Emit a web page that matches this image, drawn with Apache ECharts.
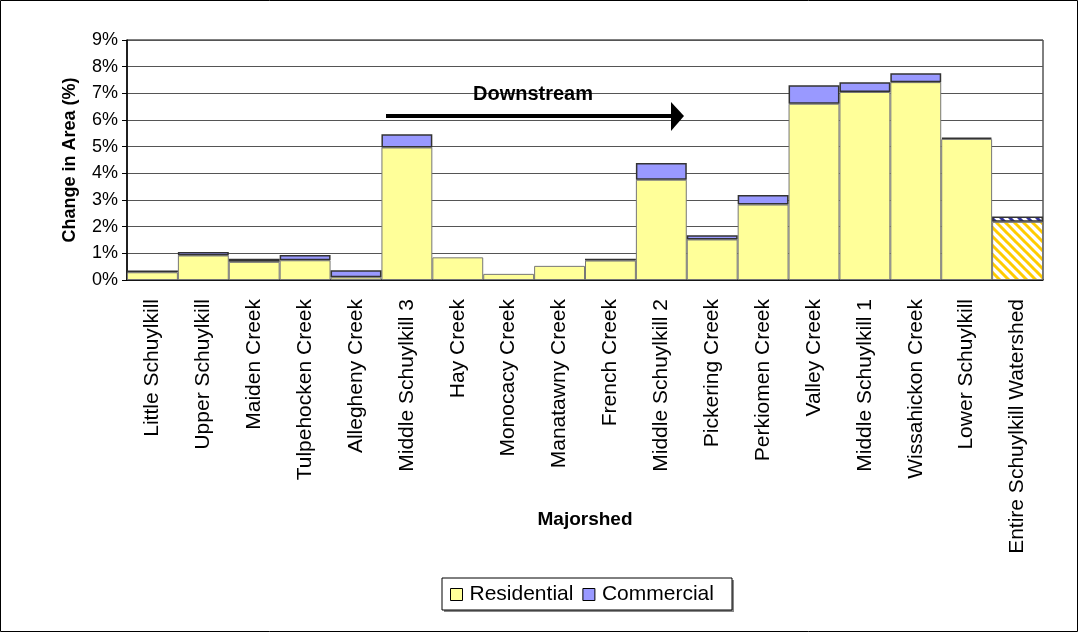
<!DOCTYPE html>
<html>
<head>
<meta charset="utf-8">
<script src="https://cdn.jsdelivr.net/npm/echarts@6/dist/echarts.min.js"></script>
<style>
  html, body { margin: 0; padding: 0; background: #fff; }
  #chart { width: 1078px; height: 632px; }
</style>
</head>
<body>
<div id="chart"></div>
<script>
// majorsheds, upstream to downstream, then the whole watershed
var categories = ['Little Schuylkill', 'Upper Schuylkill', 'Maiden Creek', 'Tulpehocken Creek', 'Allegheny Creek',
  'Middle Schuylkill 3', 'Hay Creek', 'Monocacy Creek', 'Manatawny Creek', 'French Creek', 'Middle Schuylkill 2',
  'Pickering Creek', 'Perkiomen Creek', 'Valley Creek', 'Middle Schuylkill 1', 'Wissahickon Creek',
  'Lower Schuylkill', 'Entire Schuylkill Watershed'];
// change in area, %
var residential = [0.29, 0.92, 0.68, 0.74, 0.10, 4.97, 0.85, 0.23, 0.53, 0.73, 3.76, 1.52, 2.83, 6.61, 7.05, 7.42, 5.29, 2.18];
var commercial = [0.07, 0.13, 0.12, 0.20, 0.27, 0.50, 0, 0, 0, 0.07, 0.63, 0.16, 0.36, 0.69, 0.37, 0.33, 0.05, 0.20];
var yTicks = [0, 1, 2, 3, 4, 5, 6, 7, 8, 9];

var FONT = 'Liberation Sans, Arial, sans-serif';

// diagonal hatch for the watershed total bar
function stripes(color, size, width) {
  var c = document.createElement('canvas');
  c.width = c.height = size;
  var g = c.getContext('2d');
  g.fillStyle = '#fff';
  g.fillRect(0, 0, size, size);
  g.strokeStyle = color;
  g.lineWidth = width;
  g.beginPath();
  for (var k = -1; k <= 1; k++) {
    g.moveTo(k * size - 1, -1);
    g.lineTo(k * size + size + 1, size + 1);
  }
  g.stroke();
  return { image: c, repeat: 'repeat' };
}

var last = categories.length - 1;
var resData = residential.map(function (v, i) {
  return i === last ? { value: v, itemStyle: { color: stripes('#FFCC00', 9, 3) } } : v;
});
var comData = commercial.map(function (v, i) {
  if (v === 0) return '-';
  return i === last ? { value: v, itemStyle: { color: stripes('#333399', 9, 3) } } : v;
});

var chart = echarts.init(document.getElementById('chart'));
chart.setOption({
  animation: false,
  backgroundColor: '#fff',
  textStyle: { fontFamily: FONT },
  grid: { left: 127, right: 35, top: 40, bottom: 352, show: true, borderColor: '#000', borderWidth: 1 },
  legend: {
    left: 450, top: 584, padding: 0, itemGap: 9,
    itemWidth: 12, itemHeight: 12, icon: 'rect',
    itemStyle: { borderColor: '#000', borderWidth: 1 },
    textStyle: { fontSize: 21, color: '#000', fontFamily: FONT, padding: [0, 0, 0, 2] },
    data: ['Residential', 'Commercial']
  },
  xAxis: {
    type: 'category',
    data: categories,
    name: 'Majorshed',
    nameLocation: 'middle',
    nameGap: 230,
    nameMoveOverlap: false,
    nameTextStyle: { fontSize: 19, fontWeight: 'bold', color: '#000', verticalAlign: 'top' },
    axisLine: { lineStyle: { color: '#000', width: 1.5 } },
    axisTick: { length: 7, lineStyle: { color: '#000' } },
    axisLabel: { interval: 0, rotate: 90, margin: 19, fontSize: 21, color: '#000' }
  },
  yAxis: {
    type: 'value',
    min: yTicks[0], max: yTicks[yTicks.length - 1], interval: 1,
    name: 'Change in Area (%)',
    nameLocation: 'middle',
    nameGap: 48,
    nameMoveOverlap: false,
    nameTextStyle: { fontSize: 18, fontWeight: 'bold', color: '#000' },
    axisLine: { show: true, lineStyle: { color: '#000', width: 1.5 } },
    axisTick: { show: true, length: 5, lineStyle: { color: '#000' } },
    axisLabel: { fontSize: 18, color: '#000', margin: 9, formatter: '{value}%' },
    splitLine: { lineStyle: { color: '#555', width: 1 } }
  },
  series: [
    {
      name: 'Residential', type: 'bar', stack: 'area', barCategoryGap: 0,
      itemStyle: { color: '#FFFF99', borderColor: '#777', borderWidth: 1 },
      data: resData
    },
    {
      name: 'Commercial', type: 'bar', stack: 'area', barCategoryGap: 0,
      itemStyle: { color: '#9999FF', borderColor: '#333', borderWidth: 1.5 },
      data: comData
    }
  ],
  graphic: [
    // outer frame
    { type: 'rect', shape: { x: 0.5, y: 0.5, width: 1077, height: 631 }, style: { fill: 'none', stroke: '#000', lineWidth: 1 }, z: 0 },
    // legend box with shadow
    { type: 'rect', shape: { x: 444, y: 580, width: 290, height: 32 }, style: { fill: '#888' }, z: 0 },
    { type: 'rect', shape: { x: 442, y: 578, width: 290, height: 32 }, style: { fill: '#fff', stroke: '#000', lineWidth: 1 }, z: 1 },
    // downstream arrow
    { type: 'line', shape: { x1: 386, y1: 116, x2: 674, y2: 116 }, style: { stroke: '#000', lineWidth: 4 }, z: 10 },
    { type: 'polygon', shape: { points: [[671, 102], [684, 116], [671, 131]] }, style: { fill: '#000' }, z: 10 },
    {
      type: 'text', x: 533, y: 94, z: 10,
      style: { text: 'Downstream', fontSize: 20, fontWeight: 'bold', fontFamily: FONT, fill: '#000', align: 'center', verticalAlign: 'middle' }
    }
  ]
});
</script>
</body>
</html>
